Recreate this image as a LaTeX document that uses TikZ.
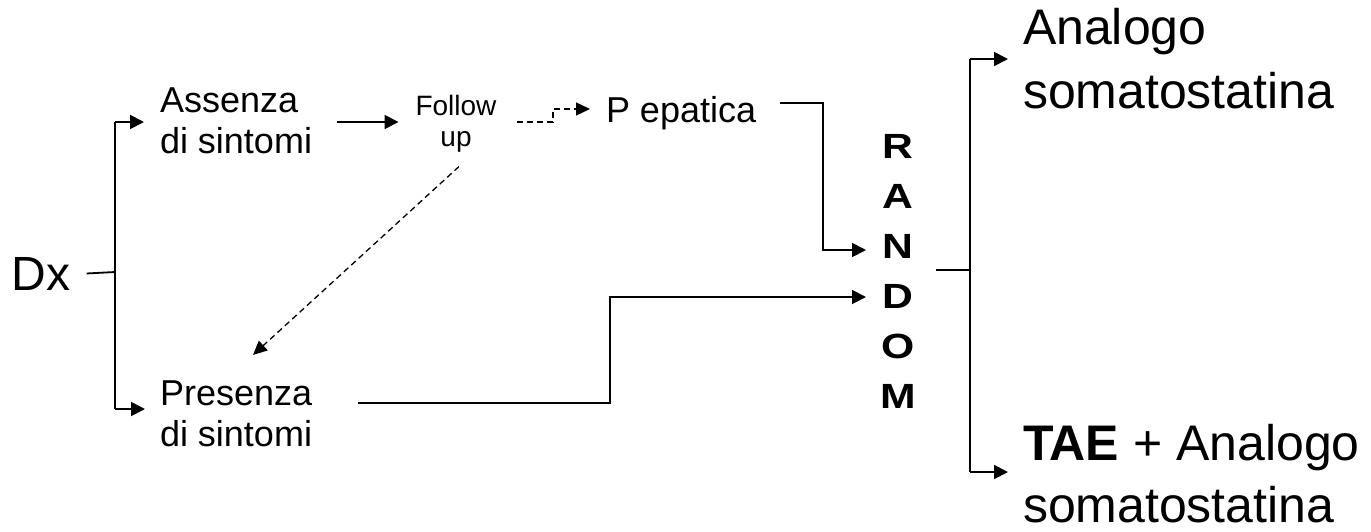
\documentclass[tikz,border=0pt]{standalone}
\usepackage{graphicx}
\usepackage{fontspec}
\setmainfont{Liberation Sans}
\usetikzlibrary{arrows.meta,calc}
\newcommand\rwide[1]{\scalebox{1.22}[1]{#1}}
\begin{document}
\begin{tikzpicture}[x=1pt,y=-1pt,
  every node/.style={inner sep=0pt,outer sep=0pt},
  ln/.style={line width=1.8pt},
  arr/.style={line width=1.8pt,-{Triangle[length=14pt,width=14pt]}},
  darr/.style={line width=1.3pt,dash pattern=on 6pt off 4pt,-{Triangle[length=14pt,width=13pt]}},
  big/.style={font=\fontsize{48}{64}\selectfont},
  mid/.style={font=\fontsize{36}{41}\selectfont},
  small/.style={font=\fontsize{28}{31}\selectfont},
  rnd/.style={font=\fontsize{35}{50}\selectfont\bfseries}]
\useasboundingbox (0,0) rectangle (1371,531);
% text nodes
\node[big,anchor=base west] (dx) at (12,290) {Dx};
\node[mid,anchor=west,align=left] (assenza) at (160,121) {Assenza\\di sintomi};
\node[mid,anchor=west,align=left] (presenza) at (160,414) {Presenza\\di sintomi};
\node[small,align=center] (follow) at (456,124) {Follow\\up};
\node[mid,anchor=base west] (pep) at (606,122) {P epatica};
\node[rnd,align=center] (random) at (898,271) {\rwide{R}\\\rwide{A}\\\rwide{N}\\\rwide{D}\\\rwide{O}\\\rwide{M}};
\node[anchor=west,align=left,font=\fontsize{50}{64}\selectfont] (out1) at (1023,59) {Analogo\\somatostatina};
\node[anchor=west,align=left,font=\fontsize{50}{62}\selectfont] (out2) at (1023,474) {\textbf{TAE} + Analogo\\somatostatina};
% junction coordinates
\coordinate (j1) at (115,272);
\coordinate (ja) at (115,122);
\coordinate (jb) at (115,409);
\coordinate (pd) at (553,109);
\coordinate (inN) at (866,250);
\coordinate (inD) at (866,297);
\coordinate (j2) at (970,270);
\coordinate (jc) at (970,59);
\coordinate (jd) at (970,472);
% connectors
\draw[ln] ($(dx.east)+(16,0)$) -- (j1);
\draw[ln] (ja) -- (jb);
\draw[arr] (ja) -- ($(assenza.west |- ja)+(-16,0)$);
\draw[arr] (jb) -- ($(presenza.west |- jb)+(-15,0)$);
\draw[arr] ($(assenza.east |- ja)+(25,0)$) -- ($(follow.west |- ja)+(-17,0)$);
\draw[darr] ($(follow.east |- ja)+(21,0)$) -| (pd) -- ($(pep.west |- pd)+(-16,0)$);
\draw[darr] ($(follow.south)+(3,14)$) -- ($(presenza.north west)+(93,-26)$);
\draw[arr] ($(pep.east)+(24,-10)$) -| ($(inN)+(-43,0)$) -- (inN);
\draw[arr] ($(presenza.east)+(46,-11)$) -| ($(inD)+(-256,0)$) -- (inD);
\draw[ln] ($(random.east |- j2)+(20,0)$) -- (j2);
\draw[ln] (jc) -- (jd);
\draw[arr] (jc) -- ($(out1.west |- jc)+(-15,0)$);
\draw[arr] (jd) -- ($(out2.west |- jd)+(-15,0)$);
\end{tikzpicture}
\end{document}
